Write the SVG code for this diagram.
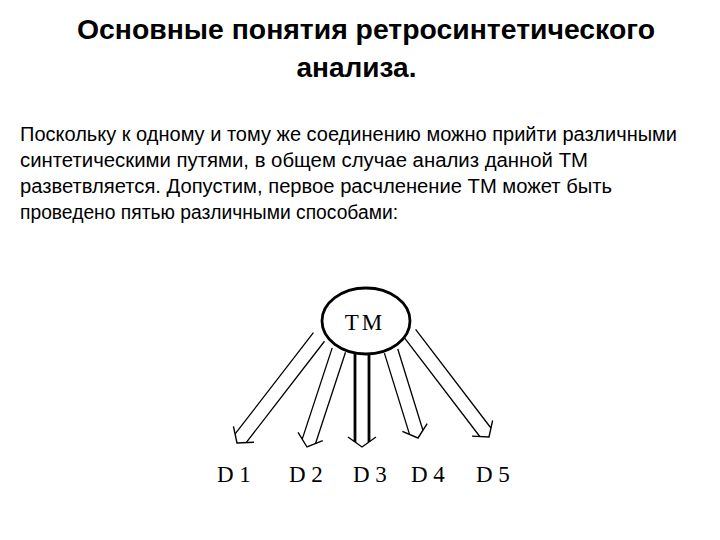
<svg xmlns="http://www.w3.org/2000/svg" width="720" height="540" viewBox="0 0 720 540">
  <style>
    .title { font-family: "Liberation Sans", Arial, sans-serif; font-weight: bold; font-size: 28px; fill: #000; }
    .body { font-family: "Liberation Sans Narrow", "Liberation Sans", Arial, sans-serif; font-size: 20px; fill: #000; }
    .lbl { font-family: "Liberation Serif", "Times New Roman", serif; font-size: 23px; fill: #000; }
    .shaft { stroke: #000; stroke-width: 1.3; fill: none; }
    .shaftb { stroke: #000; stroke-width: 2.8; fill: none; }
    .head { stroke: #000; stroke-width: 1.4; fill: none; stroke-linejoin: miter; }
  </style>
  <rect width="720" height="540" fill="#fff"/>
  <g id="title">
    <text class="title" x="366" y="39" text-anchor="middle" textLength="578" lengthAdjust="spacingAndGlyphs">Основные понятия ретросинтетического</text>
    <text class="title" x="356.5" y="77" text-anchor="middle">анализа.</text>
  </g>
  <g id="text">
    <text class="body" x="20" y="141" textLength="657" lengthAdjust="spacingAndGlyphs">Поскольку к одному и тому же соединению можно прийти различными</text>
    <text class="body" x="20" y="167" textLength="568" lengthAdjust="spacingAndGlyphs">синтетическими путями, в общем случае анализ данной ТМ</text>
    <text class="body" x="20" y="193" textLength="592" lengthAdjust="spacingAndGlyphs">разветвляется. Допустим, первое расчленение ТМ может быть</text>
    <text class="body" x="20" y="219" textLength="378" lengthAdjust="spacingAndGlyphs">проведено пятью различными способами:</text>
  </g>
  <g id="connectors">
    <g id="a1" transform="translate(237,443) rotate(37.7)">
      <path class="shaft" d="M-7,-134 V-6 M7,-134 V-6"/>
      <path class="head" d="M-13,-11 L0,0 L13,-11"/>
    </g>
    <g id="a2" transform="translate(307,447) rotate(18.2)">
      <path class="shaft" d="M-7,-102 V-6 M7,-102 V-6"/>
      <path class="head" d="M-13,-11 L0,0 L13,-11"/>
    </g>
    <g id="a3" transform="translate(362,447)">
      <path class="shaftb" d="M-7,-94 V-5 M7,-94 V-5"/>
      <path class="head" d="M-14,-10 L0,0 L14,-10"/>
    </g>
    <g id="a4" transform="translate(418,438) rotate(-17.2)">
      <path class="shaft" d="M-7,-91 V-6 M7,-91 V-6"/>
      <path class="head" d="M-13,-11 L0,0 L13,-11"/>
    </g>
    <g id="a5" transform="translate(489,437) rotate(-37.4)">
      <path class="shaft" d="M-7,-130 V-6 M7,-130 V-6"/>
      <path class="head" d="M-13,-11 L0,0 L13,-11"/>
    </g>
  </g>
  <g id="TM">
    <ellipse cx="366" cy="321" rx="44" ry="33" fill="#fff" stroke="#000" stroke-width="2.8"/>
    <text class="lbl" x="365" y="330" text-anchor="middle" letter-spacing="3">TM</text>
  </g>
  <g id="D1"><text class="lbl" x="217" y="482">D 1</text></g>
  <g id="D2"><text class="lbl" x="289" y="482">D 2</text></g>
  <g id="D3"><text class="lbl" x="353" y="482">D 3</text></g>
  <g id="D4"><text class="lbl" x="411" y="482">D 4</text></g>
  <g id="D5"><text class="lbl" x="476" y="482">D 5</text></g>
</svg>
